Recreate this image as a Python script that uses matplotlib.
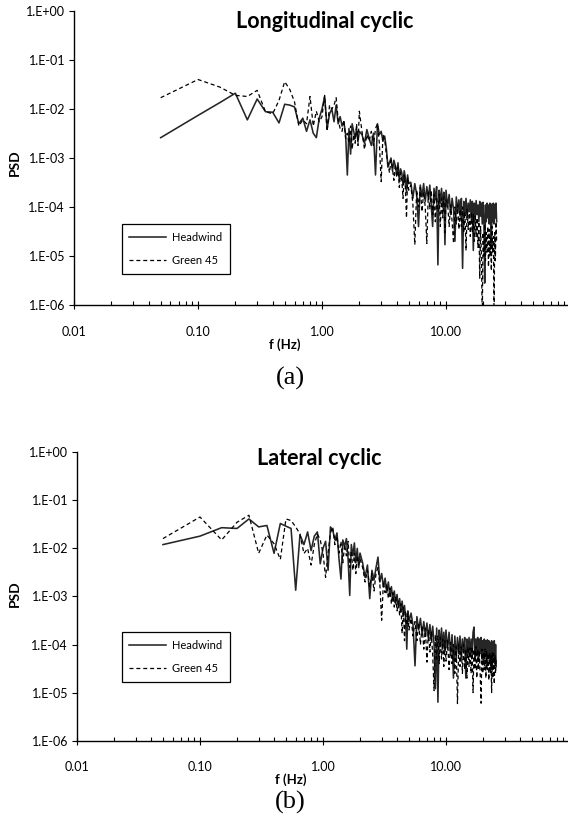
import matplotlib
matplotlib.use('Agg')
import matplotlib.pyplot as plt
from matplotlib.ticker import FixedLocator, FixedFormatter, NullFormatter

plt.rcParams['font.family'] = ['Lato', 'DejaVu Sans']

# ---------------- data ----------------
freq = [0.05, 0.10, 0.15, 0.20, 0.25, 0.30, 0.35, 0.40, 0.45, 0.50,
        0.55, 0.60, 0.65, 0.70, 0.75, 0.80, 0.85, 0.90, 0.95, 1.00,
        1.05, 1.10, 1.15, 1.20, 1.25, 1.30, 1.35, 1.40, 1.45, 1.50,
        1.55, 1.60, 1.65, 1.70, 1.75, 1.80, 1.85, 1.90, 1.95, 2.00,
        2.1, 2.2, 2.3, 2.4, 2.5, 2.6, 2.7, 2.8, 2.9, 3.0,
        3.1, 3.2, 3.3, 3.4, 3.5, 3.6, 3.7, 3.8, 3.9, 4.0,
        4.1, 4.2, 4.3, 4.4, 4.5, 4.6, 4.7, 4.8, 4.9, 5.0,
        5.2, 5.4, 5.6, 5.8, 6.0, 6.2, 6.4, 6.6, 6.8, 7.0,
        7.2, 7.4, 7.6, 7.8, 8.0, 8.2, 8.4, 8.6, 8.8, 9.0,
        9.2, 9.4, 9.6, 9.8, 10.0,
        10.3, 10.6, 10.9, 11.2, 11.5, 11.8, 12.1, 12.4, 12.7, 13.0,
        13.3, 13.6, 13.9, 14.2, 14.5, 14.8, 15.1, 15.4, 15.7, 16.0,
        16.3, 16.6, 16.9, 17.2, 17.5, 17.8, 18.1, 18.4, 18.7, 19.0,
        19.3, 19.6, 19.9, 20.2, 20.5, 20.8, 21.1, 21.4, 21.7, 22.0,
        22.3, 22.6, 22.9, 23.2, 23.5, 23.8, 24.1, 24.4, 24.7, 25.0,
        25.3, 25.6]

# (a) Longitudinal cyclic
headwind_a = [2.6e-3, 7.4e-3, 1.35e-2, 2.1e-2, 6.0e-3, 1.6e-2, 8.8e-3, 8.6e-3, 5.2e-3, 1.25e-2,
              1.2e-2, 1.1e-2, 5.0e-3, 6.5e-3, 3.5e-3, 6.0e-3, 3.2e-3, 2.6e-3, 6.5e-3, 1.0e-2,
              1.8e-2, 4.0e-3, 8.0e-3, 1.0e-2, 5.5e-3, 1.2e-2, 5.0e-3, 7.0e-3, 4.5e-3, 5.5e-3,
              3.0e-3, 4.5e-4, 4.0e-3, 1.2e-3, 5.0e-3, 3.5e-3, 2.5e-3, 4.0e-3, 2.2e-3, 3.5e-3,
              3.0e-3, 2.0e-3, 3.8e-3, 2.5e-3, 1.8e-3, 3.2e-3, 4.5e-4, 5.0e-3, 3.0e-3, 3.5e-3,
              2.2e-3, 2.8e-3, 1.6e-3, 6.5e-4, 8.0e-4, 1.0e-3, 5.5e-4, 9.0e-4, 7.0e-4, 4.5e-4,
              8.0e-4, 3.5e-4, 6.0e-4, 5.0e-4, 2.8e-4, 5.5e-4, 4.0e-4, 2.0e-4, 4.5e-4, 3.0e-4,
              3.2e-4, 1.5e-4, 3.0e-4, 1.8e-4, 4.0e-5, 2.8e-4, 1.6e-4, 3.0e-4, 1.3e-4, 2.6e-4,
              1.5e-4, 2.8e-4, 1.1e-4, 4.0e-5, 2.4e-4, 1.4e-4, 2.6e-4, 6.6e-6, 2.2e-4, 1.2e-4,
              2.4e-4, 1.0e-4, 2.0e-4, 1.7e-5, 2.2e-4,
              1.0e-4, 1.8e-4, 7.0e-5, 1.5e-4, 9.0e-5, 2.0e-5, 1.6e-4, 8.0e-5, 1.4e-4, 6.5e-5,
              1.5e-4, 5.6e-6, 1.3e-4, 7.0e-5, 1.5e-4, 6.0e-5, 1.2e-4, 8.0e-5, 1.4e-4, 5.5e-5,
              1.3e-4, 1.3e-5, 1.2e-4, 6.0e-5, 1.35e-4, 7.0e-5, 1.1e-4, 5.0e-5, 1.3e-4, 6.5e-5,
              1.2e-4, 4.5e-5, 1.25e-4, 6.0e-5, 2.8e-6, 1.1e-4, 5.0e-5, 1.2e-4, 6.0e-5, 1.1e-4,
              4.5e-5, 1.2e-4, 5.5e-5, 1.5e-5, 1.15e-4, 5.0e-5, 1.2e-4, 4.5e-5, 1.1e-4, 6.0e-5,
              1.2e-4, 5.0e-5]

green45_a = [1.7e-2, 4.0e-2, 2.8e-2, 1.9e-2, 1.8e-2, 2.4e-2, 8.8e-3, 8.0e-3, 1.5e-2, 3.6e-2,
             2.5e-2, 1.4e-2, 4.5e-3, 6.0e-3, 5.0e-3, 1.8e-2, 4.5e-3, 9.0e-3, 5.5e-3, 7.0e-3,
             1.9e-2, 3.5e-3, 1.2e-2, 1.0e-2, 1.2e-2, 1.7e-2, 6.0e-3, 4.0e-3, 3.5e-3, 6.0e-3,
             2.5e-3, 3.2e-3, 2.0e-3, 4.5e-3, 1.5e-3, 3.0e-3, 2.0e-3, 5.0e-3, 1.8e-3, 9.0e-3,
             3.5e-3, 1.5e-3, 3.0e-3, 2.2e-3, 3.5e-3, 1.8e-3, 4.0e-3, 5.0e-3, 2.0e-3, 3.3e-4,
             3.0e-3, 2.4e-3, 1.2e-3, 8.0e-4, 5.0e-4, 9.0e-4, 6.0e-4, 3.5e-4, 7.5e-4, 4.0e-4,
             6.5e-4, 2.5e-4, 5.0e-4, 3.5e-4, 1.5e-4, 4.5e-4, 2.5e-4, 6.0e-5, 4.0e-4, 2.2e-4,
             2.8e-4, 1.2e-4, 1.7e-5, 2.2e-4, 1.0e-4, 2.5e-4, 8.0e-5, 2.0e-4, 1.0e-4, 1.8e-5,
             2.0e-4, 9.0e-5, 2.2e-4, 7.0e-5, 1.8e-4, 5.0e-5, 1.6e-4, 8.0e-5, 1.8e-4, 4.0e-5,
             1.5e-4, 6.0e-5, 1.6e-4, 3.0e-5, 1.4e-4,
             1.2e-4, 4.0e-5, 1.1e-4, 5.0e-5, 1.8e-5, 1.0e-4, 4.5e-5, 1.1e-4, 3.5e-5, 9.0e-5,
             4.0e-5, 1.0e-4, 3.0e-5, 8.0e-5, 1.3e-5, 9.0e-5, 3.5e-5, 7.5e-5, 2.5e-5, 8.0e-5,
             3.0e-5, 7.0e-5, 2.0e-5, 6.5e-5, 2.5e-5, 6.0e-5, 1.5e-5, 5.0e-5, 3.5e-6, 4.0e-5,
             1.0e-5, 5.0e-7, 3.0e-5, 1.0e-5, 4.5e-5, 8.0e-6, 3.0e-5, 1.2e-5, 4.0e-5, 6.0e-6,
             3.5e-5, 1.0e-5, 2.5e-5, 5.0e-6, 4.0e-5, 1.2e-5, 2.5e-5, 5.0e-7, 3.0e-5, 8.0e-6,
             5.0e-5, 2.0e-5]

# (b) Lateral cyclic
headwind_b = [1.2e-2, 1.8e-2, 2.7e-2, 2.6e-2, 4.1e-2, 2.8e-2, 3.0e-2, 7.9e-3, 3.3e-2, 2.9e-2,
              2.6e-2, 1.35e-3, 1.9e-2, 1.2e-2, 2.2e-2, 9.0e-3, 1.8e-2, 2.2e-2, 4.8e-3, 1.0e-2,
              1.4e-2, 3.5e-3, 2.8e-2, 2.4e-2, 1.5e-2, 2.1e-2, 6.0e-3, 2.3e-3, 1.5e-2, 1.1e-2,
              1.6e-2, 6.0e-3, 1.05e-3, 1.2e-2, 7.0e-3, 1.3e-2, 5.0e-3, 1.0e-2, 4.0e-3, 8.0e-3,
              5.0e-3, 2.5e-3, 4.5e-3, 9.0e-4, 3.5e-3, 2.2e-3, 4.0e-3, 6.6e-3, 2.0e-3, 3.0e-3,
              1.6e-3, 2.4e-3, 1.2e-3, 2.0e-3, 1.0e-3, 1.6e-3, 8.0e-4, 1.3e-3, 7.0e-4, 1.1e-3,
              6.0e-4, 9.0e-4, 5.0e-4, 8.0e-4, 4.0e-4, 6.5e-4, 3.5e-4, 8.0e-5, 5.0e-4, 3.0e-4,
              4.5e-4, 2.5e-4, 3.6e-5, 3.8e-4, 2.0e-4, 3.5e-4, 1.6e-4, 3.0e-4, 1.5e-4, 2.8e-4,
              1.3e-4, 2.6e-4, 1.2e-4, 2.4e-4, 1.0e-4, 1.2e-5, 2.2e-4, 6.3e-6, 2.0e-4, 9.0e-5,
              2.2e-4, 8.0e-5, 1.8e-4, 7.0e-5, 2.0e-4,
              8.0e-5, 1.8e-4, 6.0e-5, 1.6e-4, 2.0e-5, 1.5e-4, 5.0e-5, 1.4e-4, 6.5e-5, 1.5e-4,
              5.0e-5, 1.3e-4, 7.0e-5, 1.4e-4, 2.0e-5, 1.3e-4, 6.0e-5, 1.4e-4, 5.5e-5, 1.3e-4,
              6.0e-5, 1.8e-4, 2.3e-4, 5.0e-5, 1.3e-4, 6.0e-5, 1.4e-4, 4.5e-5, 1.3e-4, 6.5e-5,
              1.4e-4, 5.0e-5, 1.2e-4, 4.0e-5, 1.3e-4, 6.0e-5, 1.2e-4, 3.5e-5, 1.25e-4, 5.5e-5,
              1.2e-4, 4.5e-5, 1.1e-4, 6.0e-5, 1.2e-4, 3.0e-5, 1.1e-4, 5.0e-5, 1.2e-4, 4.0e-5,
              1.0e-4, 3.5e-5]

green45_b = [1.6e-2, 4.5e-2, 1.5e-2, 3.5e-2, 4.9e-2, 7.9e-3, 1.9e-2, 1.25e-2, 5.9e-3, 4.1e-2,
             3.8e-2, 2.8e-2, 2.0e-2, 7.8e-3, 1.0e-2, 4.5e-3, 1.2e-2, 2.0e-2, 1.5e-2, 8.0e-3,
             2.5e-3, 8.0e-3, 2.1e-2, 2.8e-2, 1.2e-2, 1.8e-2, 8.0e-3, 1.4e-2, 5.0e-3, 1.2e-2,
             7.0e-3, 1.4e-2, 4.0e-3, 9.0e-3, 3.5e-3, 8.0e-3, 3.0e-3, 7.0e-3, 4.5e-3, 6.0e-3,
             4.0e-3, 2.0e-3, 3.5e-3, 1.6e-3, 3.0e-3, 1.3e-3, 3.0e-3, 4.0e-3, 1.8e-3, 3.2e-4,
             2.0e-3, 1.2e-3, 1.8e-3, 9.0e-4, 1.5e-3, 7.0e-4, 1.2e-3, 6.0e-4, 1.0e-3, 5.0e-4,
             8.0e-4, 4.0e-4, 7.0e-4, 1.7e-4, 6.0e-4, 1.2e-4, 5.0e-4, 2.5e-4, 4.5e-4, 2.0e-4,
             3.5e-4, 1.5e-4, 3.0e-4, 1.2e-4, 2.8e-4, 1.0e-4, 2.5e-4, 8.0e-5, 2.2e-4, 4.3e-5,
             2.0e-4, 7.0e-5, 1.8e-4, 6.0e-5, 1.1e-5, 1.6e-4, 5.0e-5, 1.5e-4, 4.0e-5, 1.4e-4,
             5.0e-5, 1.3e-4, 3.5e-5, 1.2e-4, 4.5e-5,
             1.2e-4, 3.0e-5, 1.1e-4, 4.0e-5, 1.0e-4, 2.5e-5, 9.0e-5, 5.9e-6, 1.0e-4, 3.5e-5,
             9.0e-5, 2.5e-5, 1.0e-4, 3.0e-5, 8.0e-5, 2.0e-5, 9.0e-5, 3.5e-5, 8.5e-5, 2.5e-5,
             9.0e-5, 1.0e-5, 8.0e-5, 3.0e-5, 9.0e-5, 2.0e-5, 8.0e-5, 3.0e-5, 7.5e-5, 2.0e-5,
             6.0e-6, 8.0e-5, 2.5e-5, 7.0e-5, 3.0e-5, 8.0e-5, 2.0e-5, 7.5e-5, 3.0e-5, 6.5e-5,
             1.8e-5, 7.0e-5, 2.5e-5, 6.0e-5, 1.0e-5, 7.0e-5, 2.0e-5, 6.5e-5, 1.5e-5, 6.0e-5,
             2.5e-5, 5.0e-5]

series_names = ['Headwind', 'Green 45']
titles = ['Longitudinal cyclic', 'Lateral cyclic']
panel_tags = ['(a)', '(b)']
xtick_vals = [0.01, 0.1, 1, 10]
xtick_labels = ['0.01', '0.10', '1.00', '10.00']
xminor_vals = [0.02, 0.03, 0.04, 0.05, 0.06, 0.07, 0.08, 0.09,
               0.2, 0.3, 0.4, 0.5, 0.6, 0.7, 0.8, 0.9,
               2, 3, 4, 5, 6, 7, 8, 9,
               20, 30, 40, 50, 60, 70, 80, 90]
ytick_vals = [1e0, 1e-1, 1e-2, 1e-3, 1e-4, 1e-5, 1e-6]
ytick_labels = ['1.E+00', '1.E-01', '1.E-02', '1.E-03', '1.E-04', '1.E-05', '1.E-06']

# ---------------- layout (pixels) ----------------
W, H = 568, 822
fig = plt.figure(figsize=(W / 100, H / 100), dpi=100)


def rect_px(l, t, r, b):
    return [l / W, 1 - b / H, (r - l) / W, (b - t) / H]


def fx(x):
    return x / W


def fy(y):
    return 1 - y / H


panels = [
    dict(rect=rect_px(74, 11, 568, 305), xmax=96.3, hw=headwind_a, g=green45_a,
         title_xy=(325, 22), xl_xy=(284.5, 345), psd_xy=(15, 163), tag_xy=(290, 378),
         leg_xy=(121.7, 224)),
    dict(rect=rect_px(77, 452.3, 568, 740.6), xmax=98.2, hw=headwind_b, g=green45_b,
         title_xy=(319.5, 458), xl_xy=(290.4, 780), psd_xy=(15, 594), tag_xy=(290, 802),
         leg_xy=(121.7, 632.3)),
]

solid_col = '#262626'
for i, p in enumerate(panels):
    ax = fig.add_axes(p['rect'])
    ax.set_xscale('log')
    ax.set_yscale('log')
    ax.plot(freq, p['hw'], color=solid_col, lw=1.15, label=series_names[0])
    ax.plot(freq, p['g'], color='black', lw=0.9, linestyle=(0, (3.2, 2.3)),
            label=series_names[1])
    ax.set_xlim(0.01, p['xmax'])
    ax.set_ylim(1e-6, 1e0)

    for s in ['top', 'right']:
        ax.spines[s].set_visible(False)
    for s in ['left', 'bottom']:
        ax.spines[s].set_linewidth(1.0)
        ax.spines[s].set_color('black')

    ax.xaxis.set_major_locator(FixedLocator(xtick_vals))
    ax.xaxis.set_major_formatter(FixedFormatter(xtick_labels))
    ax.xaxis.set_minor_locator(FixedLocator(xminor_vals))
    ax.xaxis.set_minor_formatter(NullFormatter())
    ax.yaxis.set_major_locator(FixedLocator(ytick_vals))
    ax.yaxis.set_major_formatter(FixedFormatter(ytick_labels))
    ax.yaxis.set_minor_locator(FixedLocator([]))

    ax.tick_params(axis='x', which='major', direction='inout', length=6, width=0.8,
                   pad=12, labelsize=9, colors='black')
    ax.tick_params(axis='x', which='minor', direction='in', length=3, width=0.8)
    ax.tick_params(axis='y', which='major', direction='out', length=3.5, width=0.8,
                   pad=3, labelsize=9, colors='black')

    fig.text(fx(p['title_xy'][0]), fy(p['title_xy'][1]), titles[i], ha='center',
             va='center', fontsize=15.5, fontweight='bold')
    fig.text(fx(p['xl_xy'][0]), fy(p['xl_xy'][1]), 'f (Hz)', ha='center', va='center',
             fontsize=9.5, fontweight='bold')
    fig.text(fx(p['psd_xy'][0]), fy(p['psd_xy'][1]), 'PSD', ha='center', va='center',
             fontsize=10, fontweight='bold', rotation=90)
    fig.text(fx(p['tag_xy'][0]), fy(p['tag_xy'][1]), panel_tags[i], ha='center',
             va='center', fontsize=19, family=['Liberation Serif', 'DejaVu Serif'])

    leg = ax.legend(loc='upper left', bbox_to_anchor=(fx(p['leg_xy'][0]), fy(p['leg_xy'][1])),
                    bbox_transform=fig.transFigure, frameon=True, fancybox=False,
                    edgecolor='black', framealpha=1, borderaxespad=0, fontsize=8,
                    handlelength=3.3, handletextpad=0.5, labelspacing=1.1, borderpad=0.7)
    leg.get_frame().set_linewidth(0.9)

fig.savefig('out.png', dpi=100)
